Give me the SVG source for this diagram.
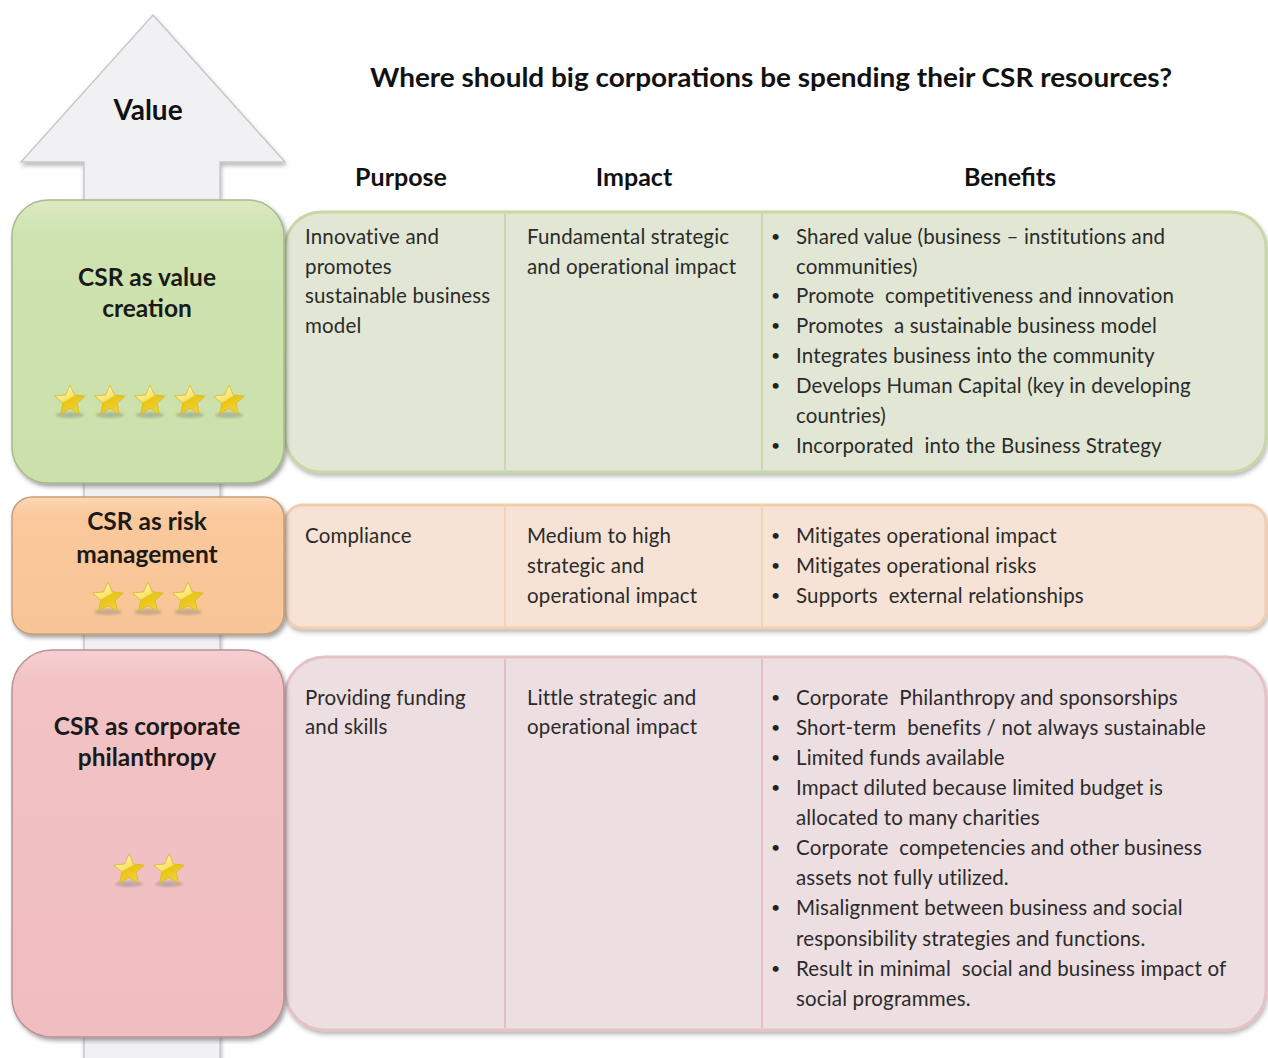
<svg xmlns="http://www.w3.org/2000/svg" width="1268" height="1058" viewBox="0 0 1268 1058">
<defs>
<style>
text{font-family:Lato,"Open Sans","Liberation Sans",sans-serif;fill:#2b2b2b;white-space:pre}
.t{font-size:20.5px;letter-spacing:0.15px}
.b{font-size:16px;fill:#222}
.h{font-size:25px;font-weight:bold;fill:#111}
.lb{font-size:24.5px;font-weight:bold;fill:#1a1a1a;text-anchor:middle}
.ttl{font-size:27px;font-weight:bold;fill:#111;text-anchor:middle}
</style>
<filter id="sh" x="-10%" y="-10%" width="125%" height="125%">
<feDropShadow dx="2" dy="3" stdDeviation="2" flood-color="#555" flood-opacity="0.55"/>
</filter>
<filter id="sh2" x="-10%" y="-10%" width="125%" height="125%">
<feDropShadow dx="1" dy="3" stdDeviation="2" flood-color="#666" flood-opacity="0.45"/>
</filter>
<filter id="lsh" x="-5%" y="-200%" width="110%" height="500%">
<feDropShadow dx="0" dy="4" stdDeviation="2" flood-color="#888" flood-opacity="0.6"/>
</filter>
<filter id="blur1"><feGaussianBlur stdDeviation="1.2"/></filter>
<linearGradient id="gG" x1="0" y1="0" x2="0" y2="1">
<stop offset="0" stop-color="#dbeac3"/><stop offset="0.12" stop-color="#cfe3b0"/><stop offset="1" stop-color="#cbe0aa"/>
</linearGradient>
<linearGradient id="gO" x1="0" y1="0" x2="0" y2="1">
<stop offset="0" stop-color="#fcd6b3"/><stop offset="0.15" stop-color="#fac89b"/><stop offset="1" stop-color="#f8c596"/>
</linearGradient>
<linearGradient id="gP" x1="0" y1="0" x2="0" y2="1">
<stop offset="0" stop-color="#f6cfd1"/><stop offset="0.08" stop-color="#f2c2c5"/><stop offset="1" stop-color="#f0bec1"/>
</linearGradient>
<linearGradient id="gStar" x1="0.2" y1="0" x2="0.8" y2="1">
<stop offset="0" stop-color="#fffbd0"/><stop offset="0.45" stop-color="#f8e36a"/><stop offset="0.5" stop-color="#e9c414"/><stop offset="1" stop-color="#f3d640"/>
</linearGradient>
<g id="star">
<ellipse cx="0" cy="14" rx="14" ry="3" fill="#8a8a7a" opacity="0.45" filter="url(#blur1)"/>
<path d="M0,-16 L4.4,-6 L15.2,-4.9 L7.1,2.3 L9.4,12.9 L0,7.5 L-9.4,12.9 L-7.1,2.3 L-15.2,-4.9 L-4.4,-6 Z" fill="url(#gStar)" stroke="#d9b820" stroke-width="0.8" stroke-linejoin="round"/>
</g>
</defs>
<rect width="1268" height="1058" fill="#ffffff"/>

<g id="value-arrow">
<polygon points="153,15 285,162 220,162 220,1060 84,1060 84,162 21,162" fill="#f1f1f3" stroke="#c9c9cc" stroke-width="1.5" filter="url(#sh2)"/>
<text class="ttl" x="148" y="120" style="font-size:28px">Value</text>
</g>

<g id="header">
<text class="ttl" x="771" y="87" textLength="802" lengthAdjust="spacingAndGlyphs">Where should big corporations be spending their CSR resources?</text>
<line x1="312" y1="129" x2="1233" y2="129" stroke="#222" stroke-width="2" filter="url(#lsh)"/>
<text class="h" x="401" y="186" text-anchor="middle">Purpose</text>
<text class="h" x="634" y="186" text-anchor="middle">Impact</text>
<text class="h" x="1010" y="186" text-anchor="middle">Benefits</text>
</g>

<g id="panel-value">
<rect x="285" y="212" width="981" height="260" rx="36" fill="#e2e7d5" stroke="#c6d8a6" stroke-width="3" filter="url(#sh2)"/>
<line x1="505" y1="214" x2="505" y2="470" stroke="#c9d9ab" stroke-width="2"/>
<line x1="762" y1="214" x2="762" y2="470" stroke="#c9d9ab" stroke-width="2"/>
<text class="t" x="305" y="244">Innovative and</text>
<text class="t" x="305" y="274">promotes</text>
<text class="t" x="305" y="303">sustainable business</text>
<text class="t" x="305" y="333">model</text>
<text class="t" x="527" y="244">Fundamental strategic</text>
<text class="t" x="527" y="274">and operational impact</text>
<text class="b" x="771" y="242">•</text><text class="t" x="796" y="244">Shared value (business – institutions and</text>
<text class="t" x="796" y="274">communities)</text>
<text class="b" x="771" y="301">•</text><text class="t" x="796" y="303">Promote  competitiveness and innovation</text>
<text class="b" x="771" y="331">•</text><text class="t" x="796" y="333">Promotes  a sustainable business model</text>
<text class="b" x="771" y="361">•</text><text class="t" x="796" y="363">Integrates business into the community</text>
<text class="b" x="771" y="391">•</text><text class="t" x="796" y="393">Develops Human Capital (key in developing</text>
<text class="t" x="796" y="423">countries)</text>
<text class="b" x="771" y="451">•</text><text class="t" x="796" y="453">Incorporated  into the Business Strategy</text>
</g>

<g id="panel-risk">
<rect x="285" y="505" width="981" height="123" rx="18" fill="#f6e3d6" stroke="#f2ceaf" stroke-width="3" filter="url(#sh2)"/>
<line x1="505" y1="507" x2="505" y2="626" stroke="#efd3bc" stroke-width="2"/>
<line x1="762" y1="507" x2="762" y2="626" stroke="#efd3bc" stroke-width="2"/>
<text class="t" x="305" y="543">Compliance</text>
<text class="t" x="527" y="543">Medium to high</text>
<text class="t" x="527" y="573">strategic and</text>
<text class="t" x="527" y="603">operational impact</text>
<text class="b" x="771" y="541">•</text><text class="t" x="796" y="543">Mitigates operational impact</text>
<text class="b" x="771" y="571">•</text><text class="t" x="796" y="573">Mitigates operational risks</text>
<text class="b" x="771" y="601">•</text><text class="t" x="796" y="603">Supports  external relationships</text>
</g>

<g id="panel-philanthropy">
<rect x="285" y="657" width="981" height="373" rx="40" fill="#eddee1" stroke="#e5c2c6" stroke-width="3" filter="url(#sh2)"/>
<line x1="505" y1="659" x2="505" y2="1028" stroke="#e3c0c5" stroke-width="2"/>
<line x1="762" y1="659" x2="762" y2="1028" stroke="#e3c0c5" stroke-width="2"/>
<text class="t" x="305" y="705">Providing funding</text>
<text class="t" x="305" y="734">and skills</text>
<text class="t" x="527" y="705">Little strategic and</text>
<text class="t" x="527" y="734">operational impact</text>
<text class="b" x="771" y="703">•</text><text class="t" x="796" y="705">Corporate  Philanthropy and sponsorships</text>
<text class="b" x="771" y="733">•</text><text class="t" x="796" y="735">Short-term  benefits / not always sustainable</text>
<text class="b" x="771" y="763">•</text><text class="t" x="796" y="765">Limited funds available</text>
<text class="b" x="771" y="793">•</text><text class="t" x="796" y="795">Impact diluted because limited budget is</text>
<text class="t" x="796" y="825">allocated to many charities</text>
<text class="b" x="771" y="853">•</text><text class="t" x="796" y="855">Corporate  competencies and other business</text>
<text class="t" x="796" y="885">assets not fully utilized.</text>
<text class="b" x="771" y="913">•</text><text class="t" x="796" y="915">Misalignment between business and social</text>
<text class="t" x="796" y="946">responsibility strategies and functions.</text>
<text class="b" x="771" y="974">•</text><text class="t" x="796" y="976">Result in minimal  social and business impact of</text>
<text class="t" x="796" y="1006">social programmes.</text>
</g>

<g id="csr-value-creation">
<rect x="12" y="200" width="272" height="283" rx="36" fill="url(#gG)" stroke="#a9ba8e" stroke-width="1.5" filter="url(#sh)"/>
<text class="lb" x="147" y="286">CSR as value</text>
<text class="lb" x="147" y="317">creation</text>
<use href="#star" x="70" y="401"/>
<use href="#star" x="110" y="401"/>
<use href="#star" x="150" y="401"/>
<use href="#star" x="190" y="401"/>
<use href="#star" x="229" y="401"/>
</g>

<g id="csr-risk-management">
<rect x="12" y="497" width="272" height="137" rx="20" fill="url(#gO)" stroke="#c79f7c" stroke-width="1.5" filter="url(#sh)"/>
<text class="lb" x="147" y="530">CSR as risk</text>
<text class="lb" x="147" y="563">management</text>
<use href="#star" x="108" y="598"/>
<use href="#star" x="148" y="598"/>
<use href="#star" x="188" y="598"/>
</g>

<g id="csr-corporate-philanthropy">
<rect x="12" y="650" width="272" height="387" rx="40" fill="url(#gP)" stroke="#b99396" stroke-width="1.5" filter="url(#sh)"/>
<text class="lb" x="147" y="735">CSR as corporate</text>
<text class="lb" x="147" y="766">philanthropy</text>
<use href="#star" x="129" y="870"/>
<use href="#star" x="169" y="870"/>
</g>

<g id="connectors"></g>
</svg>
